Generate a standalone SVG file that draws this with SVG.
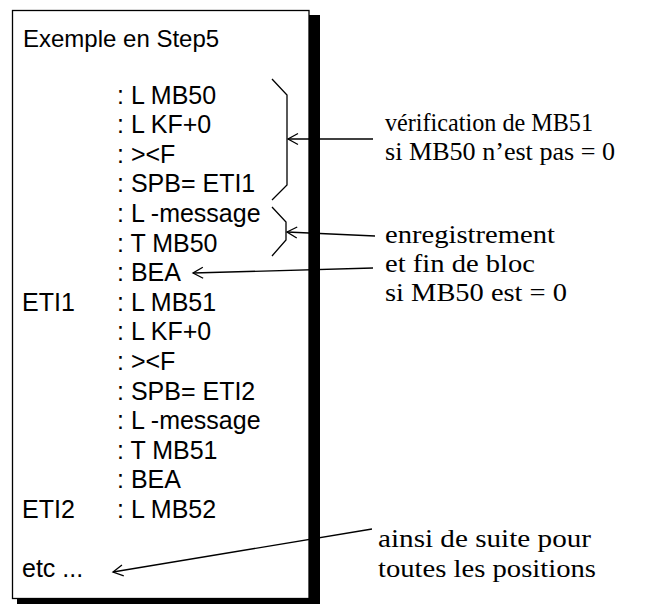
<svg xmlns="http://www.w3.org/2000/svg" width="647" height="604" viewBox="0 0 647 604">
<style>
.code{font-family:"Liberation Sans",Arial,sans-serif;font-size:25px;fill:#000}
.title{font-family:"Liberation Sans",Arial,sans-serif;font-size:24px;fill:#000}
.note{font-family:"Liberation Serif","Times New Roman",serif;font-size:24.5px;fill:#000}
.thin{fill:none;stroke:#000;stroke-width:1.3}
.conn{fill:none;stroke:#000;stroke-width:1.3;marker-end:url(#arr)}
</style>
<defs>
<marker id="arr" markerUnits="userSpaceOnUse" viewBox="-12 -7 14 14" markerWidth="14" markerHeight="14" refX="0" refY="0" orient="auto" overflow="visible">
<path d="M-10,-5.5 L0,0 L-10,5.5" fill="none" stroke="#000" stroke-width="1.3"/>
</marker>
</defs>
<rect width="647" height="604" fill="#fff"/>
<g id="listing">
<rect x="309" y="15" width="11" height="589" fill="#000"/>
<rect x="17" y="598" width="303" height="6" fill="#000"/>
<rect x="12.5" y="10.5" width="296.5" height="588" fill="#fff" stroke="#000" stroke-width="1.3"/>
<text class="title" x="23" y="47">Exemple en Step5</text>
<text class="code" x="117" y="103.5">: L MB50</text>
<text class="code" x="117" y="133.1">: L KF+0</text>
<text class="code" x="117" y="162.7">: &gt;&lt;F</text>
<text class="code" x="117" y="192.3">: SPB= ETI1</text>
<text class="code" x="117" y="221.9">: L -message</text>
<text class="code" x="117" y="251.5">: T MB50</text>
<text class="code" x="117" y="281.1">: BEA</text>
<text class="code" x="22" y="310.7">ETI1</text>
<text class="code" x="117" y="310.7">: L MB51</text>
<text class="code" x="117" y="340.3">: L KF+0</text>
<text class="code" x="117" y="369.9">: &gt;&lt;F</text>
<text class="code" x="117" y="399.5">: SPB= ETI2</text>
<text class="code" x="117" y="429.1">: L -message</text>
<text class="code" x="117" y="458.7">: T MB51</text>
<text class="code" x="117" y="488.3">: BEA</text>
<text class="code" x="22" y="517.9">ETI2</text>
<text class="code" x="117" y="517.9">: L MB52</text>
<text class="code" x="22" y="577.1">etc ...</text>
</g>
<g id="brace1"><polyline class="thin" points="272,79 287,95 287,185 272,200"/></g>
<g id="brace2"><polyline class="thin" points="272,207 286,222 286,240 272,256"/></g>
<g id="note-verification">
<text class="note" x="385" y="131" textLength="208" lengthAdjust="spacingAndGlyphs">vérification de MB51</text>
<text class="note" x="385" y="160" textLength="230" lengthAdjust="spacingAndGlyphs">si MB50 n’est pas = 0</text>
</g>
<g id="note-enregistrement">
<text class="note" x="385" y="243" textLength="170" lengthAdjust="spacingAndGlyphs">enregistrement</text>
<text class="note" x="385" y="272" textLength="150" lengthAdjust="spacingAndGlyphs">et fin de bloc</text>
<text class="note" x="385" y="301" textLength="182" lengthAdjust="spacingAndGlyphs">si MB50 est = 0</text>
</g>
<g id="note-suite">
<text class="note" x="378" y="547" textLength="213" lengthAdjust="spacingAndGlyphs">ainsi de suite pour</text>
<text class="note" x="378" y="577" textLength="218" lengthAdjust="spacingAndGlyphs">toutes les positions</text>
</g>
<g id="connectors">
<line class="conn" x1="373" y1="139" x2="288" y2="139"/>
<line class="conn" x1="375" y1="236" x2="287" y2="232"/>
<line class="conn" x1="373" y1="268" x2="193" y2="273"/>
<line class="conn" x1="372" y1="529" x2="113" y2="572"/>
</g>
</svg>
